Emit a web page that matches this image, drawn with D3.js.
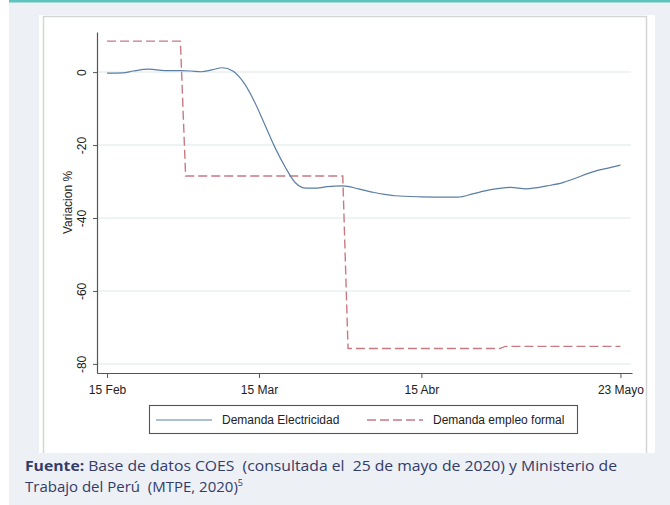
<!DOCTYPE html>
<html>
<head>
<meta charset="utf-8">
<script src="https://cdn.jsdelivr.net/npm/d3@7"></script>
<style>
  body { margin: 0; background: #ffffff; }
  svg { display: block; }
  .chart-text { font-family: "Liberation Sans", Arial, sans-serif; }
  .src-text { font-family: "Open Sans", "Noto Sans", sans-serif; white-space: pre; }
</style>
</head>
<body>
<script>
// ---------------- DATA ----------------
const elecDates = ["2020-02-15","2020-02-18","2020-02-20","2020-02-23","2020-02-26","2020-02-29","2020-03-02","2020-03-04","2020-03-06","2020-03-08","2020-03-10","2020-03-12","2020-03-14","2020-03-16","2020-03-18","2020-03-20","2020-03-22","2020-03-24","2020-03-26","2020-03-28","2020-03-31","2020-04-03","2020-04-06","2020-04-08","2020-04-10","2020-04-15","2020-04-20","2020-04-22","2020-04-25","2020-04-28","2020-05-02","2020-05-05","2020-05-09","2020-05-12","2020-05-14","2020-05-17","2020-05-19","2020-05-21","2020-05-23"];
const elecValues = [-0.3,-0.2,0.3,0.8,0.4,0.4,0.3,0.1,0.6,1.2,0.3,-2.7,-7.7,-14.0,-20.5,-26.0,-30.4,-31.8,-31.8,-31.4,-31.2,-32.0,-33.0,-33.5,-33.9,-34.2,-34.3,-34.3,-33.3,-32.3,-31.6,-32.0,-31.2,-30.3,-29.3,-27.7,-26.8,-26.2,-25.5];

const empDates = ["2020-02-15","2020-02-29","2020-03-01","2020-03-31","2020-04-01","2020-04-30","2020-05-01","2020-05-23"];
const empValues = [8.5,8.5,-28.5,-28.5,-75.8,-75.8,-75.2,-75.2];

const seriesNames = ["Demanda Electricidad","Demanda empleo formal"];
const xTickDates = ["2020-02-15","2020-03-15","2020-04-15","2020-05-23"];
const xTickLabels = ["15 Feb","15 Mar","15 Abr","23 Mayo"];
const yTicks = [0,-20,-40,-60,-80];
const yTitle = "Variacion %";
const sourceBold = "Fuente:";
const sourceLine1 = " Base de datos COES  (consultada el  25 de mayo de 2020) y Ministerio de";
const sourceLine2 = "Trabajo del Perú  (MTPE, 2020)";
const sourceSup = "5";

// ---------------- SETUP ----------------
const parse = d3.utcParse("%Y-%m-%d");
const W = 670, H = 505;
const svg = d3.select("body").append("svg").attr("width", W).attr("height", H);

// page frame
svg.append("rect").attr("x", 9).attr("y", 0).attr("width", W - 9).attr("height", H).attr("fill", "#edf0f5");
svg.append("rect").attr("x", 9).attr("y", 0).attr("width", W - 9).attr("height", 2.5).attr("fill", "#5ec3bc");
svg.append("rect").attr("x", 39).attr("y", 15).attr("width", 616).attr("height", 438).attr("fill", "#ffffff");
svg.append("path").attr("d", "M43.5,453 V16.5 H646.5 V453").attr("fill", "none").attr("stroke", "#d3d6d6").attr("stroke-width", 1.5);

// scales
const x = d3.scaleUtc()
  .domain([new Date(Date.UTC(2020,1,13,2)), new Date(Date.UTC(2020,4,25,5))])
  .range([97, 632]);
const y = d3.scaleLinear().domain([11, -82.5]).range([32, 373]);

// gridlines
svg.append("g").selectAll("line").data(yTicks).join("line")
  .attr("x1", x.range()[0] + 1).attr("x2", 631)
  .attr("y1", d => y(d)).attr("y2", d => y(d))
  .attr("stroke", "#e9f0f1").attr("stroke-width", 1.5);

// y axis
const yAxis = svg.append("g").attr("transform", `translate(${x.range()[0]},0)`)
  .call(d3.axisLeft(y).tickValues(yTicks).tickSize(4).tickSizeOuter(0).tickFormat(d => d));
yAxis.select(".domain").attr("stroke", "#555").attr("stroke-width", 1.2);
yAxis.selectAll(".tick line").attr("stroke", "#555");
yAxis.selectAll(".tick text")
  .attr("class", "chart-text")
  .attr("transform", "rotate(-90)")
  .attr("x", 0).attr("y", -11).attr("dy", 0)
  .attr("text-anchor", "middle")
  .attr("font-size", 12).attr("fill", "#222");

// x axis
const xAxis = svg.append("g").attr("transform", `translate(0,${y.range()[1]})`)
  .call(d3.axisBottom(x).tickValues(xTickDates.map(parse)).tickSize(5).tickSizeOuter(0)
    .tickFormat((d, i) => xTickLabels[i]));
xAxis.select(".domain").attr("stroke", "#555").attr("stroke-width", 1.2);
xAxis.selectAll(".tick line").attr("stroke", "#555");
xAxis.selectAll(".tick text").attr("class", "chart-text").attr("y", 12).attr("font-size", 12).attr("fill", "#222");

// y title
svg.append("text").attr("class", "chart-text")
  .attr("transform", `translate(72,${(y.range()[0] + y.range()[1]) / 2}) rotate(-90)`)
  .attr("text-anchor", "middle").attr("font-size", 12).attr("fill", "#222")
  .text(yTitle);

// lines
const elec = elecDates.map((d, i) => ({ date: parse(d), value: elecValues[i] }));
const emp = empDates.map((d, i) => ({ date: parse(d), value: empValues[i] }));

const colors = ["#5a7ea5", "#c87a83"];

svg.append("path").datum(emp)
  .attr("fill", "none").attr("stroke", colors[1]).attr("stroke-width", 1.4)
  .attr("stroke-dasharray", "9,4")
  .attr("d", d3.line().x(d => x(d.date)).y(d => y(d.value)));

svg.append("path").datum(elec)
  .attr("fill", "none").attr("stroke", colors[0]).attr("stroke-width", 1.2)
  .attr("d", d3.line().curve(d3.curveMonotoneX).x(d => x(d.date)).y(d => y(d.value)));

// legend
const lg = svg.append("g");
lg.append("rect").attr("x", 149.5).attr("y", 405.5).attr("width", 428).attr("height", 28)
  .attr("fill", "#fff").attr("stroke", "#555").attr("stroke-width", 1.1);
const legendItems = [
  { x0: 156, x1: 212, tx: 222, dash: null },
  { x0: 367, x1: 423, tx: 433, dash: "9,4" }
];
legendItems.forEach((it, i) => {
  lg.append("line").attr("x1", it.x0).attr("x2", it.x1).attr("y1", 420).attr("y2", 420)
    .attr("stroke", colors[i]).attr("stroke-width", i === 0 ? 1.2 : 1.4)
    .attr("stroke-dasharray", it.dash);
  lg.append("text").attr("class", "chart-text").attr("x", it.tx).attr("y", 424.3)
    .attr("font-size", 12).attr("fill", "#222")
    .text(seriesNames[i]);
});

// source note
const src = svg.append("g").attr("fill", "#333c69");
const t1 = src.append("text").attr("class", "src-text").attr("x", 25).attr("y", 471).attr("font-size", 15)
  .attr("textLength", 592).attr("lengthAdjust", "spacingAndGlyphs");
t1.append("tspan").attr("font-weight", "bold").text(sourceBold);
t1.append("tspan").text(sourceLine1);
const t2 = src.append("text").attr("class", "src-text").attr("x", 25).attr("y", 492).attr("font-size", 15)
  .attr("textLength", 218).attr("lengthAdjust", "spacingAndGlyphs");
t2.append("tspan").text(sourceLine2);
t2.append("tspan").attr("font-size", 9).attr("dy", -6).text(sourceSup);
</script>
</body>
</html>
